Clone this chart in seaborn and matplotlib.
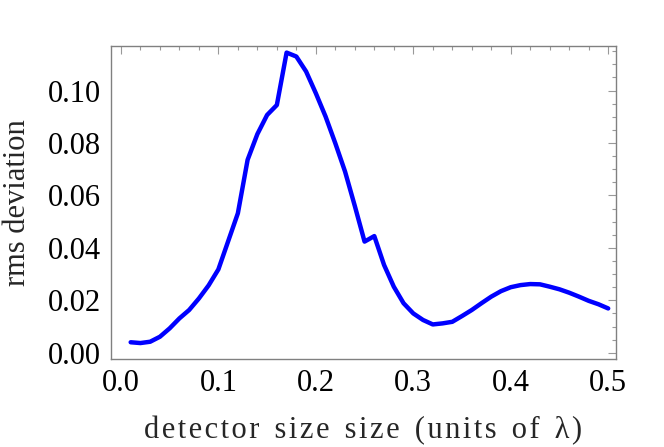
import numpy as np
import pandas as pd
from matplotlib import pyplot as plt
from matplotlib.ticker import MultipleLocator
import seaborn as sns

# detector size (units of lambda) and rms deviation
detector_size = [0.01, 0.02, 0.03, 0.04, 0.05, 0.06, 0.07, 0.08, 0.09, 0.10,
                 0.11, 0.12, 0.13, 0.14, 0.15, 0.16, 0.17, 0.18, 0.19, 0.20,
                 0.21, 0.22, 0.23, 0.24, 0.25, 0.26, 0.27, 0.28, 0.29, 0.30,
                 0.31, 0.32, 0.33, 0.34, 0.35, 0.36, 0.37, 0.38, 0.39, 0.40,
                 0.41, 0.42, 0.43, 0.44, 0.45, 0.46, 0.47, 0.48, 0.49, 0.50]
rms_deviation = [0.0040, 0.0037, 0.0042, 0.0061, 0.0093, 0.0131, 0.0163, 0.0207, 0.0257, 0.0318,
                 0.0425, 0.0532, 0.0736, 0.0834, 0.0907, 0.0945, 0.1145, 0.1130, 0.1073, 0.0990,
                 0.0901, 0.0799, 0.0691, 0.0560, 0.0424, 0.0445, 0.0335, 0.0252, 0.0189, 0.0150,
                 0.0125, 0.0108, 0.0112, 0.0118, 0.0140, 0.0163, 0.0189, 0.0214, 0.0235, 0.0250,
                 0.0258, 0.0262, 0.0261, 0.0252, 0.0242, 0.0229, 0.0214, 0.0198, 0.0185, 0.0169]

xlabel_text = "detector size size (units of \u03bb)"
ylabel_text = "rms deviation"


def spaced(s, gap="\u200a"):
    """Mimic the letter-spaced axis label with hair spaces."""
    return gap.join(s).replace(" ", " \u200a")


def main():
    df = pd.DataFrame({"size": detector_size, "rms": rms_deviation})

    sns.set_style("white")
    plt.rcParams["font.family"] = ["Liberation Serif", "DejaVu Serif"]

    fig = plt.figure(figsize=(6.64, 4.47), dpi=100)
    ax = fig.add_axes([0.1667, 0.1962, 0.7610, 0.7008])

    sns.lineplot(data=df, x="size", y="rms", color="#0000ff", linewidth=3.2, ax=ax)

    ax.set_xlim(-0.0105, 0.508)
    ax.set_ylim(-0.0025, 0.117)
    ax.xaxis.set_major_locator(MultipleLocator(0.1))
    ax.xaxis.set_minor_locator(MultipleLocator(0.02))
    ax.yaxis.set_major_locator(MultipleLocator(0.02))
    ax.yaxis.set_minor_locator(MultipleLocator(0.005))
    ax.xaxis.set_major_formatter(plt.FuncFormatter(lambda v, p: f"{v:.1f}"))
    ax.yaxis.set_major_formatter(plt.FuncFormatter(lambda v, p: f"{v:.2f}"))

    for sp in ax.spines.values():
        sp.set_color("#808080")
        sp.set_linewidth(1.0)

    ax.tick_params(which="both", direction="in", top=True, right=True,
                   color="#999999", width=0.8, labelsize=22, labelcolor="black")
    ax.tick_params(which="major", length=6, pad=7)
    ax.tick_params(which="minor", length=3)

    ax.set_xlabel(spaced(xlabel_text), fontsize=22)
    ax.set_ylabel(ylabel_text, fontsize=22)
    ax.xaxis.set_label_coords(0.5, -0.18)
    ax.yaxis.set_label_coords(-0.155, 0.5)

    fig.savefig("out.png", dpi=100)


if __name__ == "__main__":
    main()
